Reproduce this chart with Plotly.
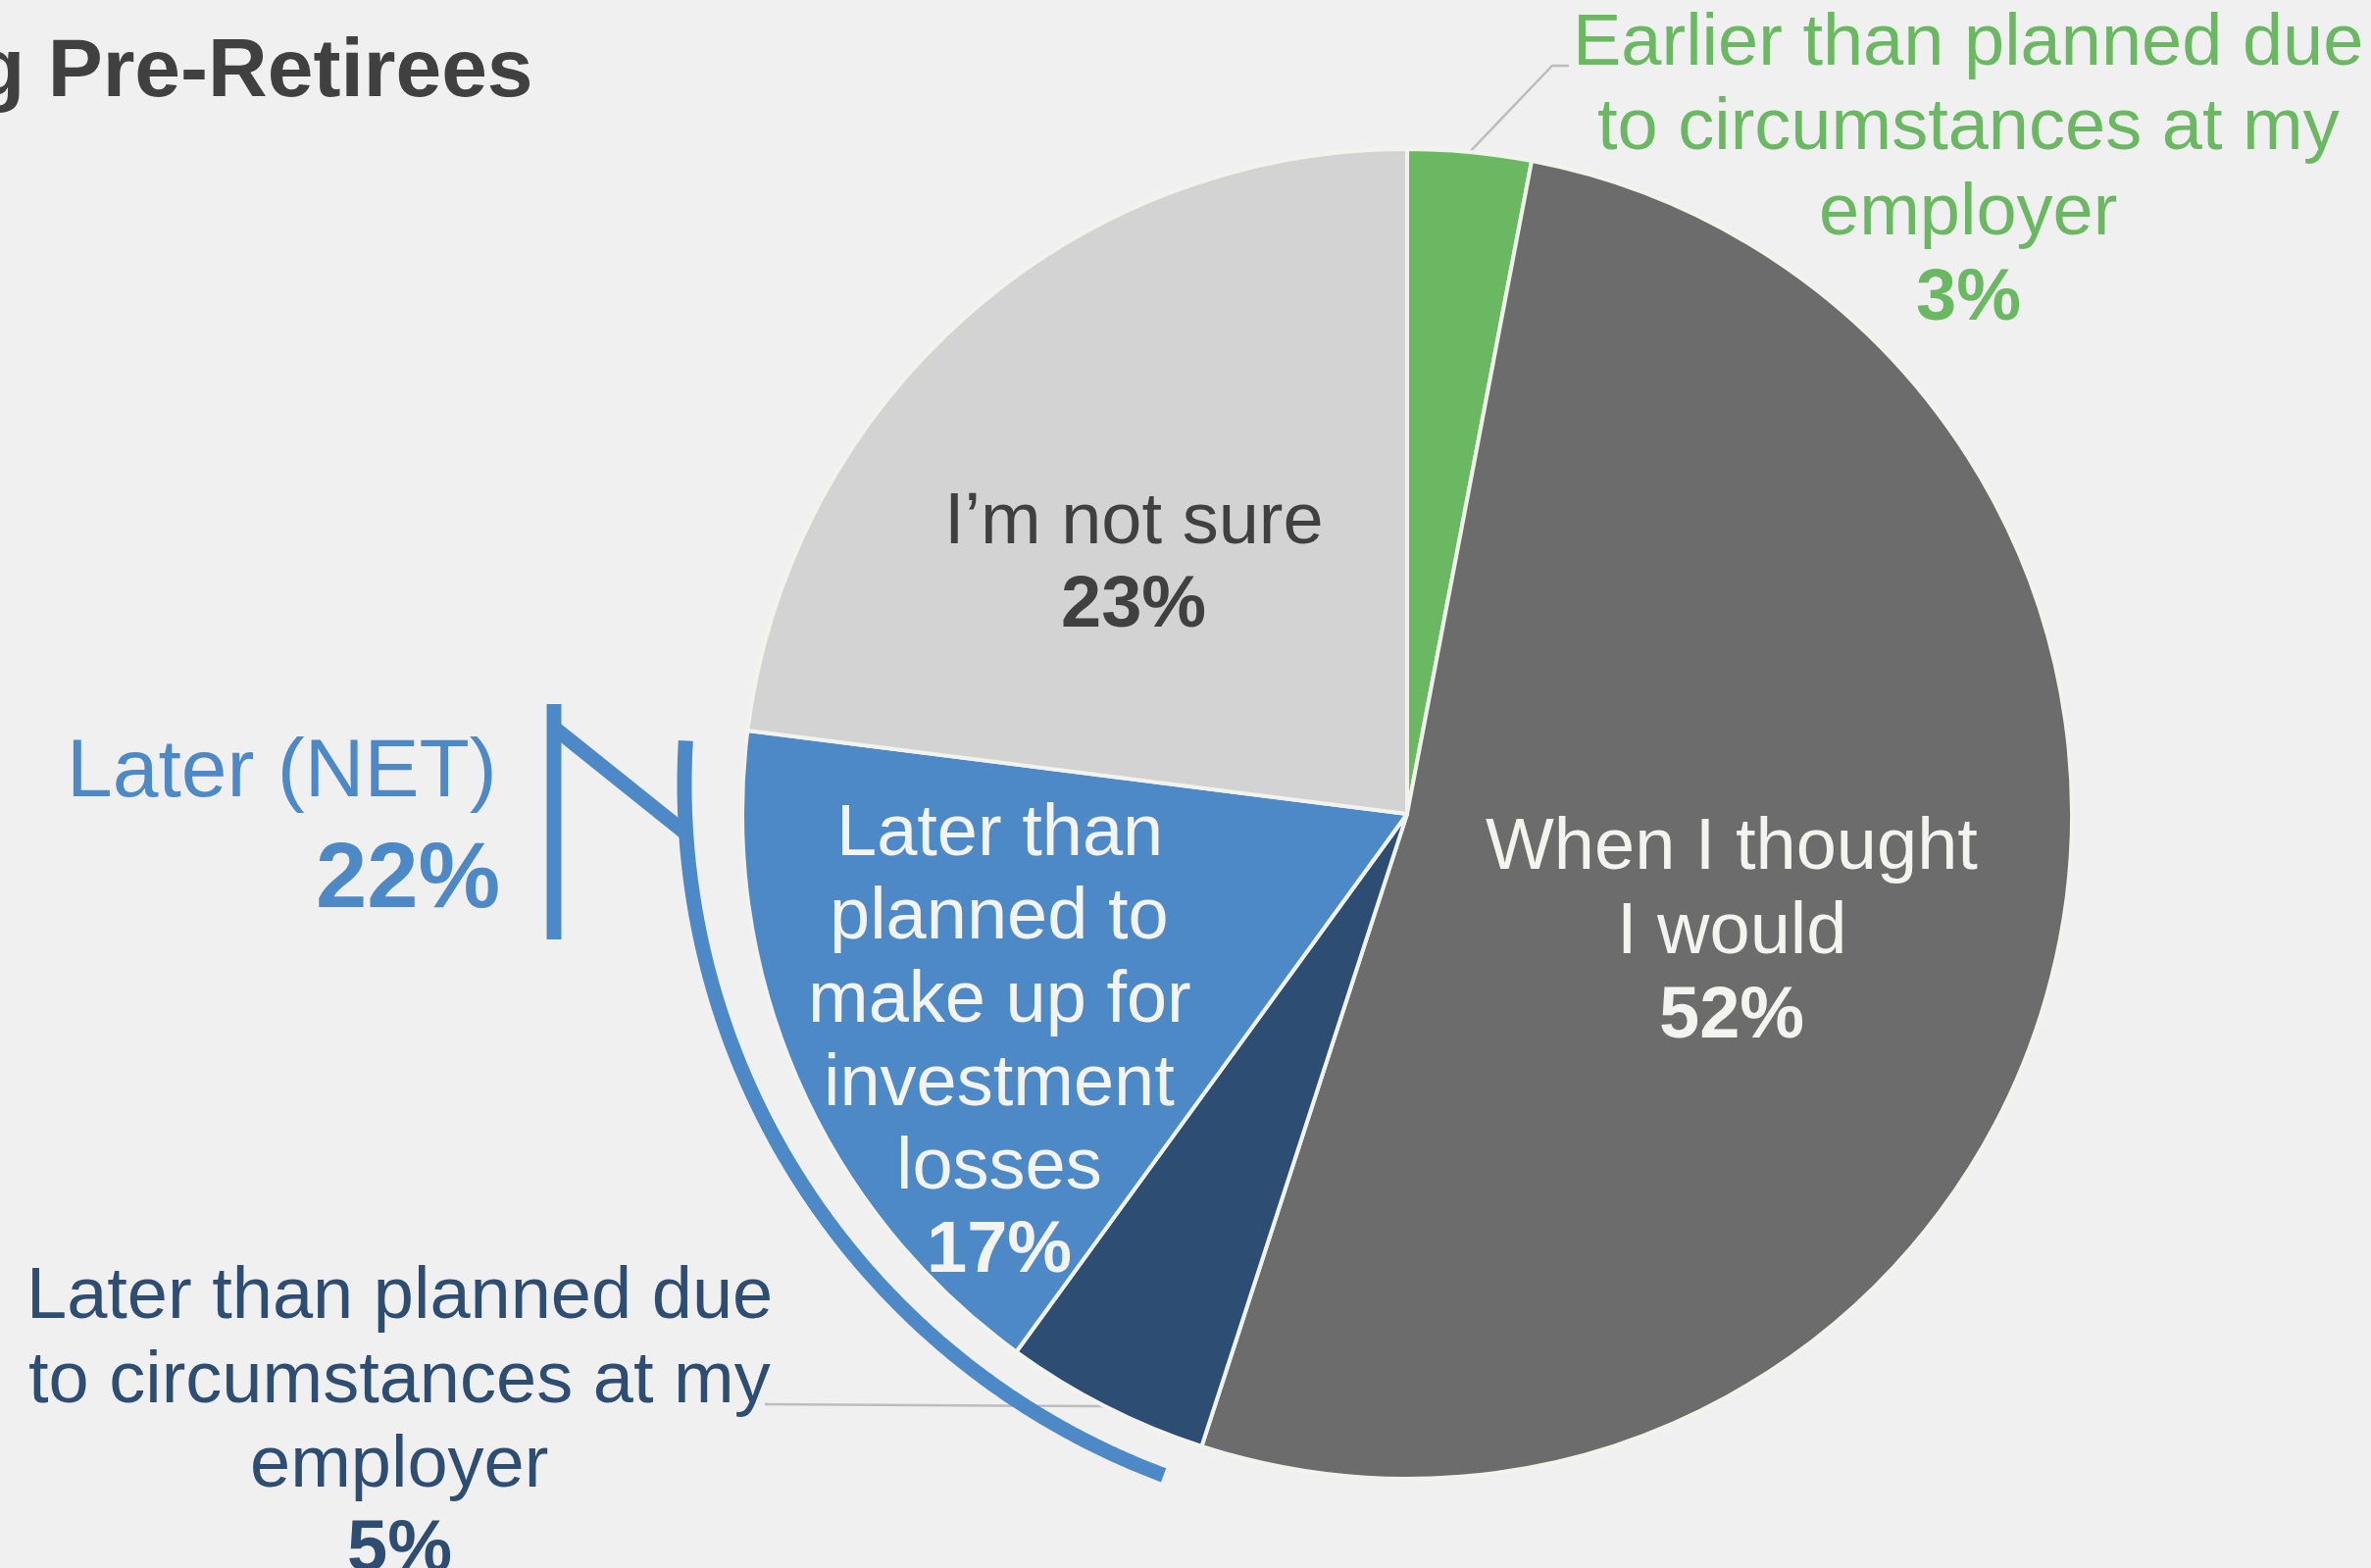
import math
import plotly.graph_objects as go

# ---- data -------------------------------------------------------------
categories = [
    "Earlier than planned due to circumstances at my employer",
    "When I thought I would",
    "Later than planned due to circumstances at my employer",
    "Later than planned to make up for investment losses",
    "I’m not sure",
]
values = [3, 52, 5, 17, 23]
label_lines = [
    ["Earlier than planned due", "to circumstances at my", "employer"],
    ["When I thought", "I would"],
    ["Later than planned due", "to circumstances at my", "employer"],
    ["Later than", "planned to", "make up for", "investment", "losses"],
    ["I’m not sure"],
]
net_label = "Later (NET)"
net_members = [2, 3]          # slices that make up the "Later" total
title_text = "g Pre-Retirees"

# ---- styling ----------------------------------------------------------
W, H = 2418, 1599
CX, CY, R = 1435, 830, 678      # pie centre / radius in page pixels
BG = "#F0F0F0"
FONT = "Arial, Liberation Sans, sans-serif"
slice_colors = ["#6BB862", "#6C6C6C", "#2D4D73", "#4E89C7", "#D3D3D3"]
text_colors = ["#6BB862", "#F3F3EF", "#2D4D73", "#F3F3EF", "#404040"]
# (x centre, y of first line, line step) for each label block
label_pos = [(2007, 40, 86.7), (1766, 860, 86), (407, 1318, 86.3),
             (1019, 846, 85), (1156, 528, 85)]
LABEL_SIZE = 74
NET_COLOR = "#4E89C7"

total = sum(values)


def edge_point(angle_deg, radius, cx=CX, cy=CY):
    """Point at a clockwise angle from 12 o'clock (screen coordinates)."""
    a = math.radians(angle_deg)
    return cx + radius * math.sin(a), cy - radius * math.cos(a)


cum = [sum(values[:i]) / total * 360 for i in range(len(values) + 1)]
mid = [(cum[i] + cum[i + 1]) / 2 for i in range(len(values))]

fig = go.Figure()

# leader lines for the two small outside-labelled slices
gx, gy = edge_point(mid[0], R)
fig.add_trace(go.Scatter(x=[gx, 1583, 1600], y=[gy, 67, 67], mode="lines",
                         line=dict(color="#BDBDBD", width=2.5),
                         hoverinfo="skip", showlegend=False))
nx, ny = edge_point(mid[2], R)
fig.add_trace(go.Scatter(x=[780, nx], y=[1432, ny], mode="lines",
                         line=dict(color="#BDBDBD", width=2.5),
                         hoverinfo="skip", showlegend=False))

# bracket arc spanning the "Later" slices
a_start = cum[net_members[0]] + 2.5
a_end = cum[net_members[-1] + 1] - 3.8
ARC_C = (1450, 800)
ARC_R = 752
n = 240
arc_pts = [edge_point(a_start + (a_end - a_start) * k / n, ARC_R, *ARC_C)
           for k in range(n + 1)]
fig.add_trace(go.Scatter(x=[p[0] for p in arc_pts], y=[p[1] for p in arc_pts],
                         mode="lines",
                         line=dict(color=NET_COLOR, width=15, simplify=False),
                         hoverinfo="skip", showlegend=False))
# connector from the bracket to the NET label
jx, jy = edge_point(266.2, ARC_R, *ARC_C)
fig.add_trace(go.Scatter(x=[565, jx], y=[742, jy], mode="lines",
                         line=dict(color=NET_COLOR, width=15),
                         hoverinfo="skip", showlegend=False))
fig.add_trace(go.Scatter(x=[565, 565], y=[718, 958], mode="lines",
                         line=dict(color=NET_COLOR, width=15),
                         hoverinfo="skip", showlegend=False))

# the pie itself
fig.add_trace(go.Pie(
    labels=categories, values=values, sort=False, direction="clockwise",
    rotation=0, textinfo="none", hoverinfo="label+percent",
    marker=dict(colors=slice_colors, line=dict(color="#F3F3EE", width=4)),
    domain=dict(x=[(CX - R) / W, (CX + R) / W],
                y=[(H - CY - R) / H, (H - CY + R) / H]),
    showlegend=False,
))

annotations = []
for i, lines in enumerate(label_lines):
    x0, y0, step = label_pos[i]
    texts = lines + [f"<b>{values[i]}%</b>"]
    for k, t in enumerate(texts):
        annotations.append(dict(
            x=x0, y=y0 + k * step, xref="x", yref="y", text=t,
            showarrow=False, xanchor="center", yanchor="middle",
            font=dict(family=FONT, size=LABEL_SIZE, color=text_colors[i])))

net_value = sum(values[i] for i in net_members)
annotations.append(dict(x=509, y=783, xref="x", yref="y", text=net_label,
                        showarrow=False, xanchor="right", yanchor="middle",
                        font=dict(family=FONT, size=84, color=NET_COLOR)))
annotations.append(dict(x=512, y=892, xref="x", yref="y",
                        text=f"<b>{net_value}%</b>",
                        showarrow=False, xanchor="right", yanchor="middle",
                        font=dict(family=FONT, size=94, color=NET_COLOR)))
annotations.append(dict(x=546, y=69, xref="x", yref="y",
                        text=f"<b>{title_text}</b>",
                        showarrow=False, xanchor="right", yanchor="middle",
                        font=dict(family=FONT, size=84, color="#404040")))

fig.update_layout(
    width=W, height=H, autosize=False,
    margin=dict(l=0, r=0, t=0, b=0),
    paper_bgcolor=BG, plot_bgcolor=BG,
    xaxis=dict(range=[0, W], visible=False, domain=[0, 1], fixedrange=True),
    yaxis=dict(range=[H, 0], visible=False, domain=[0, 1], fixedrange=True),
    annotations=annotations,
)

fig.write_html("out.html")
